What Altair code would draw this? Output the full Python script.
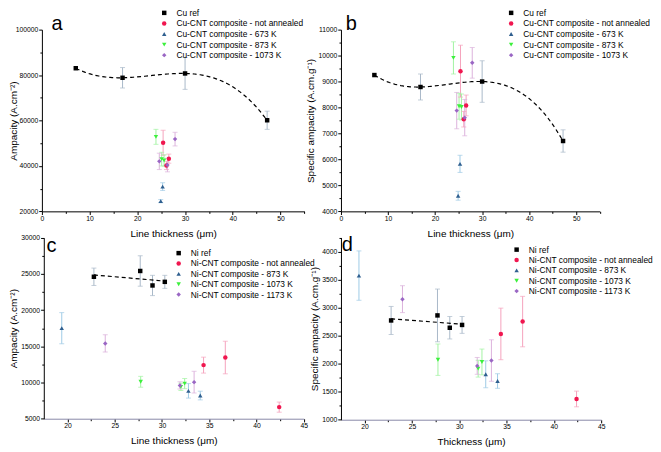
import altair as alt
import pandas as pd

FONT = "Liberation Sans"

# ---------------- Cu data (panels a, b) ----------------
cu_series = ["Cu ref", "Cu-CNT composite - not annealed", "Cu-CNT composite - 673 K",
             "Cu-CNT composite - 873 K", "Cu-CNT composite - 1073 K"]
cu_x = {
    "Cu ref": [7.1, 16.9, 30.0, 47.2],
    "Cu-CNT composite - not annealed": [25.4, 26.6, 26.1],
    "Cu-CNT composite - 673 K": [25.3, 24.9],
    "Cu-CNT composite - 873 K": [23.9, 25.1, 25.6],
    "Cu-CNT composite - 1073 K": [27.9, 24.6, 26.3],
}
cu_amp = {
    "Cu ref": [83000, 78800, 80700, 60100],
    "Cu-CNT composite - not annealed": [50200, 43200, 40200],
    "Cu-CNT composite - 673 K": [30900, 24500],
    "Cu-CNT composite - 873 K": [52800, 43000, 42400],
    "Cu-CNT composite - 1073 K": [51800, 42000, 40400],
}
cu_amp_err = {
    "Cu ref": [0, 4500, 7000, 4000],
    "Cu-CNT composite - not annealed": [5500, 2000, 1800],
    "Cu-CNT composite - 673 K": [1700, 700],
    "Cu-CNT composite - 873 K": [3300, 3000, 2500],
    "Cu-CNT composite - 1073 K": [3000, 3600, 3000],
}
cu_spec = {
    "Cu ref": [9250, 8790, 9000, 6710],
    "Cu-CNT composite - not annealed": [9400, 8080, 7550],
    "Cu-CNT composite - 673 K": [5830, 4600],
    "Cu-CNT composite - 873 K": [9910, 8050, 8020],
    "Cu-CNT composite - 1073 K": [9720, 7880, 7610],
}
cu_spec_err = {
    "Cu ref": [0, 500, 800, 430],
    "Cu-CNT composite - not annealed": [1000, 400, 300],
    "Cu-CNT composite - 673 K": [330, 170],
    "Cu-CNT composite - 873 K": [620, 500, 500],
    "Cu-CNT composite - 1073 K": [590, 700, 700],
}

# ---------------- Ni data (panels c, d) ----------------
ni_series = ["Ni ref", "Ni-CNT composite - not annealed", "Ni-CNT composite - 873 K",
             "Ni-CNT composite - 1073 K", "Ni-CNT composite - 1173 K"]
ni_x = {
    "Ni ref": [22.8, 27.7, 29.0, 30.3],
    "Ni-CNT composite - not annealed": [34.4, 36.7, 42.4],
    "Ni-CNT composite - 873 K": [19.4, 32.8, 34.05],
    "Ni-CNT composite - 1073 K": [27.75, 32.0, 32.4],
    "Ni-CNT composite - 1173 K": [24.0, 31.9, 33.4],
}
ni_amp = {
    "Ni ref": [24600, 25400, 23400, 23900],
    "Ni-CNT composite - not annealed": [12400, 13450, 6600],
    "Ni-CNT composite - 873 K": [17500, 8850, 8200],
    "Ni-CNT composite - 1073 K": [10100, 9400, 9850],
    "Ni-CNT composite - 1173 K": [15400, 9600, 10050],
}
ni_amp_err = {
    "Ni ref": [1200, 2100, 1400, 900],
    "Ni-CNT composite - not annealed": [1100, 2250, 700],
    "Ni-CNT composite - 873 K": [2150, 1000, 600],
    "Ni-CNT composite - 1073 K": [750, 500, 700],
    "Ni-CNT composite - 1173 K": [1200, 500, 1500],
}
ni_spec = {
    "Ni ref": [2770, 2860, 2640, 2690],
    "Ni-CNT composite - not annealed": [2530, 2750, 1370],
    "Ni-CNT composite - 873 K": [3570, 1810, 1690],
    "Ni-CNT composite - 1073 K": [2070, 1910, 2030],
    "Ni-CNT composite - 1173 K": [3150, 1960, 2055],
}
ni_spec_err = {
    "Ni ref": [250, 470, 200, 150],
    "Ni-CNT composite - not annealed": [460, 450, 140],
    "Ni-CNT composite - 873 K": [440, 240, 130],
    "Ni-CNT composite - 1073 K": [280, 150, 230],
    "Ni-CNT composite - 1173 K": [240, 150, 370],
}

# ---------------- ticks ----------------
ab_x_ticks = [0, 5, 10, 15, 20, 25, 30, 35, 40, 45, 50, 55]
cd_x_ticks = [20, 22.5, 25, 27.5, 30, 32.5, 35, 37.5, 40, 42.5, 45]
a_y_ticks = [20000, 30000, 40000, 50000, 60000, 70000, 80000, 90000, 100000]
b_y_ticks = [4000, 4500, 5000, 5500, 6000, 6500, 7000, 7500, 8000, 8500, 9000, 9500, 10000, 10500, 11000]
c_y_ticks = [5000, 7500, 10000, 12500, 15000, 17500, 20000, 22500, 25000, 27500, 30000]
d_y_ticks = [1000, 1250, 1500, 1750, 2000, 2250, 2500, 2750, 3000, 3250, 3500, 3750, 4000, 4250]

marker_colors = ["#000000", "#f0164f", "#2f5f8f", "#3cf03c", "#9a66c4"]
err_colors = ["#a9b9c9", "#f5a3bd", "#9fcbe6", "#a3f3a3", "#dcb2dc"]
shapes = ["square", "circle", "triangle-up", "triangle-down", "diamond"]

W, H = 561, 391
LEG_FS = 8.4


def make_df(series, xs, ys, errs):
    rows = []
    for s in series:
        for xv, yv, ev in zip(xs[s], ys[s], errs[s]):
            rows.append({"series": s, "x": xv, "y": yv, "err": ev})
    return pd.DataFrame(rows)


def axis(values, major, title, orient, tpad, offset, **kw):
    test = f"datum.value % {major} === 0"
    return alt.Axis(
        values=values, orient=orient, title=title, format="d", offset=offset,
        labelExpr=f"{test} ? datum.label : ''", labelOverlap=False, labelFlush=False,
        tickSize={"condition": {"test": test, "value": 3.2}, "value": 2},
        titlePadding=tpad, grid=False, **kw)


def panel(df, series, xdom, xrange, ydom, yrange, xvals, xmajor, yvals, ymajor,
          xtitle, ytitle, letter, lx, ly, legx, legy, rowpad, xtpad, ytpad,
          fit_method, fit_order, xdomain_color="#000000"):
    xs = alt.Scale(domain=xdom, range=xrange, nice=False, zero=False)
    ys = alt.Scale(domain=ydom, range=yrange, nice=False, zero=False)
    xa = axis(xvals, xmajor, xtitle, "bottom", xtpad, -(H - yrange[0]), domainColor=xdomain_color)
    ya = axis(yvals, ymajor, ytitle, "left", ytpad, -xrange[0])
    base = alt.Chart(df).transform_filter("datum.err > 0").transform_calculate(
        lo="datum.y - datum.err", hi="datum.y + datum.err")
    ecol = alt.Color("series:N", scale=alt.Scale(domain=series, range=err_colors), legend=None)
    X = alt.X("x:Q", scale=xs, axis=xa, title=xtitle)
    rule = base.mark_rule(strokeWidth=1).encode(
        x=X, y=alt.Y("lo:Q", scale=ys, axis=ya, title=ytitle), y2="hi:Q", color=ecol)
    cap_lo = base.mark_tick(orient="horizontal", size=5, thickness=1).encode(
        x=X, y=alt.Y("lo:Q", scale=ys, axis=ya, title=ytitle), color=ecol)
    cap_hi = base.mark_tick(orient="horizontal", size=5, thickness=1).encode(
        x=X, y=alt.Y("hi:Q", scale=ys, axis=ya, title=ytitle), color=ecol)
    fit = alt.Chart(df).transform_filter(alt.datum.series == series[0]).transform_regression(
        "x", "y", method=fit_method, order=fit_order).mark_line(
        color="black", strokeDash=[4, 3], strokeWidth=1.2).encode(
        x=X, y=alt.Y("y:Q", scale=ys, axis=ya, title=ytitle))
    leg = alt.Legend(title=None, orient="none", legendX=legx, legendY=legy, padding=0,
                     labelFontSize=LEG_FS, labelFont=FONT, symbolSize=20, rowPadding=rowpad,
                     labelOffset=8, symbolStrokeWidth=0, labelLimit=300, labelColor="black")
    pts = alt.Chart(df).mark_point(filled=True, opacity=1, size=20).encode(
        x=X,
        y=alt.Y("y:Q", scale=ys, axis=ya, title=ytitle),
        color=alt.Color("series:N", scale=alt.Scale(domain=series, range=marker_colors), legend=leg),
        shape=alt.Shape("series:N", scale=alt.Scale(domain=series, range=shapes), legend=leg),
    )
    lab = alt.Chart(pd.DataFrame({"t": [letter]})).mark_text(
        fontSize=20, font=FONT, align="left", baseline="top", color="black").encode(
        text="t:N", x=alt.value(lx), y=alt.value(ly))
    return alt.layer(rule, cap_lo, cap_hi, fit, pts, lab).resolve_scale(
        color="independent", shape="independent")


df_a = make_df(cu_series, cu_x, cu_amp, cu_amp_err)
df_b = make_df(cu_series, cu_x, cu_spec, cu_spec_err)
df_c = make_df(ni_series, ni_x, ni_amp, ni_amp_err)
df_d = make_df(ni_series, ni_x, ni_spec, ni_spec_err)

A = panel(df_a, cu_series, [0, 55], [0, 263.3], [20000, 100000], [182.3, 0],
          ab_x_ticks, 10, a_y_ticks, 20000,
          "Line thickness (\u03bcm)", "Ampacity (A.cm\u207b\u00b2)", "a", 9.7, -16, 118.5, -21, 1.6, 6, -3,
          "poly", 3)
B = panel(df_b, cu_series, [0, 55], [300, 559.6], [4000, 11000], [182.3, 0],
          ab_x_ticks, 10, b_y_ticks, 1000,
          "Line thickness (\u03bcm)", "Specific ampacity (A.cm.g\u207b\u00b9)", "b", 304.7, -16, 466.5, -21,
          1.6, 6, 2, "poly", 3)
C = panel(df_c, ni_series, [17.5, 45], [1.9, 262.7], [5000, 30000], [390.3, 208.7],
          cd_x_ticks, 5, c_y_ticks, 5000,
          "Line thickness (\u03bcm)", "Ampacity (A.cm\u207b\u00b2)", "c", 4.7, 207.2, 133, 220, 1.4, 6, 2,
          "linear", 1, "#8a8aa8")
D = panel(df_d, ni_series, [17.5, 45], [300, 561], [1000, 4250], [391.3, 208.5],
          cd_x_ticks, 5, d_y_ticks, 500,
          "Thickness (\u03bcm)", "Specific ampacity (A.cm.g\u207b\u00b9)", "d", 300.7, 206.2, 472, 216.5, 1.4,
          6, 2, "linear", 1, "#8a8aa8")

chart = alt.layer(A, B, C, D).resolve_scale(
    x="independent", y="independent", color="independent", shape="independent").resolve_axis(
    x="independent", y="independent").properties(width=W, height=H, padding=0).configure_view(
    stroke=None).configure_axis(
    labelFont=FONT, titleFont=FONT, labelFontSize=6.8, titleFontSize=10, titleFontWeight="normal",
    labelColor="black", titleColor="black", domainColor="black", tickColor="black",
    labelPadding=1, domainWidth=1, tickWidth=1).configure_legend(
    labelFont=FONT, labelFontSize=LEG_FS, labelColor="black")

chart.save("out.html", embed_options={"renderer": "svg", "actions": False})
